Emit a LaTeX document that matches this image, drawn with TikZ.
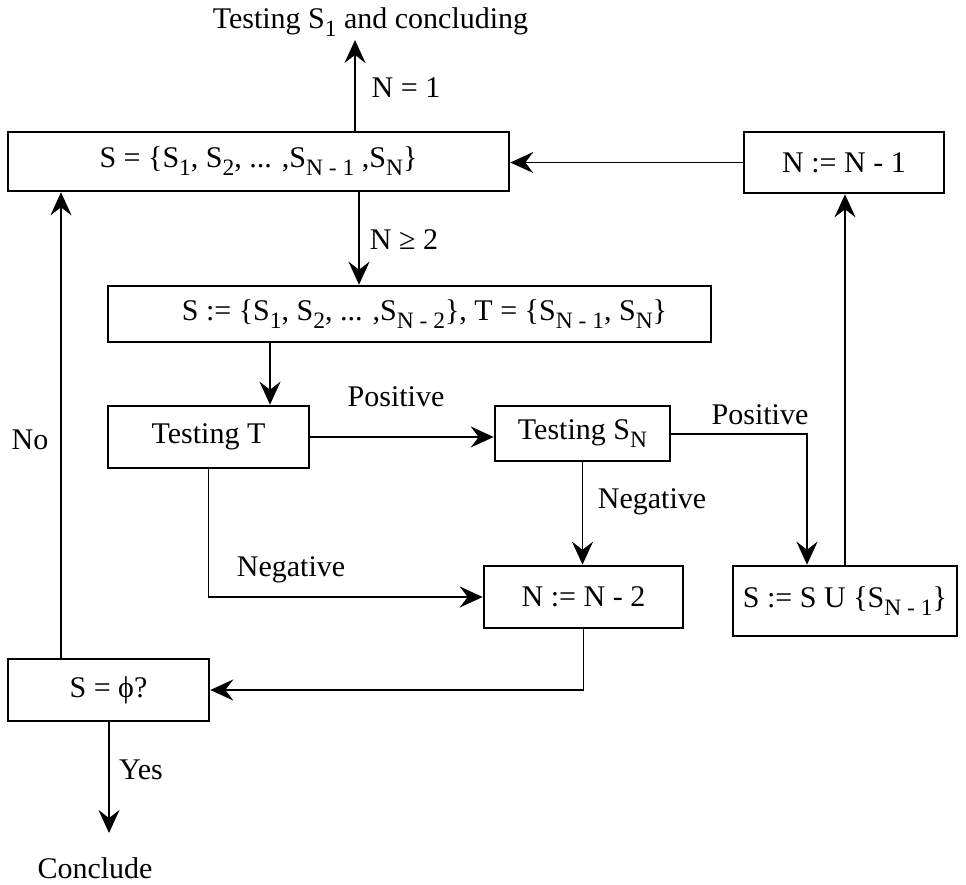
\documentclass[tikz,border=0pt]{standalone}
\usepackage{fontspec}
\setmainfont{Liberation Serif}
\usetikzlibrary{arrows.meta}
% lowered, smaller subscript as used in the set notation
\newcommand{\lsub}[1]{\raisebox{-8pt}{\fontsize{23.5}{26}\selectfont #1}}

\begin{document}
\begin{tikzpicture}[x=1pt,y=-1pt,
  every node/.style={font=\fontsize{30}{35}\selectfont, inner sep=0pt},
  box/.style={draw, line width=2.6pt, rectangle, align=center},
  conn/.style={line width=1.8pt, -{Stealth[length=23pt,width=21pt,inset=8pt]}}]

\useasboundingbox (0,0) rectangle (966,885);

% process boxes
\node[box, minimum width=501pt, minimum height=59pt] (set) at (258.5,161.5)
  {S = \{S\lsub{1}, S\lsub{2}, ... ,S\lsub{N - 1} ,S\lsub{N}\}};
\node[box, minimum width=200pt, minimum height=61pt] (dec1) at (844,162.5)
  {N := N - 1};
\node[box, minimum width=603pt, minimum height=56pt] (split) at (409.5,314)
  {\hspace*{30pt}S := \{S\lsub{1}, S\lsub{2}, ... ,S\lsub{N - 2}\}, T = \{S\lsub{N - 1}, S\lsub{N}\}};
\node[box, minimum width=201pt, minimum height=62pt] (testT) at (208.5,437)
  {Testing T};
\node[box, minimum width=175pt, minimum height=55pt] (testSN) at (582.5,433.5)
  {Testing S\lsub{N}};
\node[box, minimum width=199pt, minimum height=62pt] (dec2) at (583.5,597)
  {N := N - 2};
\node[box, minimum width=224pt, minimum height=70pt] (union) at (845,601)
  {S := S U \{S\lsub{N - 1}\}};
\node[box, minimum width=201pt, minimum height=62pt] (empty) at (108.5,690)
  {S = ϕ?};

% terminal texts
\node (final1) at (370.5,22) {Testing S\lsub{1} and concluding};
\node (final2) at (95,868) {Conclude};

% helper points for the connectors
\coordinate (upx) at (355,40);
\coordinate (dnx) at (359,240);
\coordinate (tx) at (270,380);
\coordinate (posx) at (807,434);
\coordinate (nox) at (61,440);
\coordinate (yesend) at (109,833);

% connectors
\draw[conn] (set.north -| upx) -- (upx);
\draw[conn] (set.south -| dnx) -- (split.north -| dnx);
\draw[conn] (split.south -| tx) -- (testT.north -| tx);
\draw[conn] (testT.east) -- (testT.east -| testSN.west);
\draw[conn] (testSN.south) -- (testSN.south |- dec2.north);
\draw[conn] (testSN.east |- posx) -- (posx) -- (posx |- union.north);
\draw[conn] (testT.south) |- (dec2.west);
\draw[conn] (dec2.south) |- (empty.east);
\draw[conn] (empty.north -| nox) -- (set.south -| nox);
\draw[conn] (empty.south -| yesend) -- (yesend);
\draw[conn] (union.north) -- (union.north |- dec1.south);
\draw[conn] (dec1.west) -- (dec1.west -| set.east);

% connector labels
\node (l1) at (406,88) {N = 1};
\node (l2) at (404,240) {N ≥ 2};
\node (l3) at (396,397) {Positive};
\node (l4) at (652,502) {Negative};
\node (l5) at (760,415) {Positive};
\node (l6) at (291,570) {Negative};
\node (l7) at (30,440) {No};
\node (l8) at (141,770) {Yes};

\end{tikzpicture}
\end{document}
